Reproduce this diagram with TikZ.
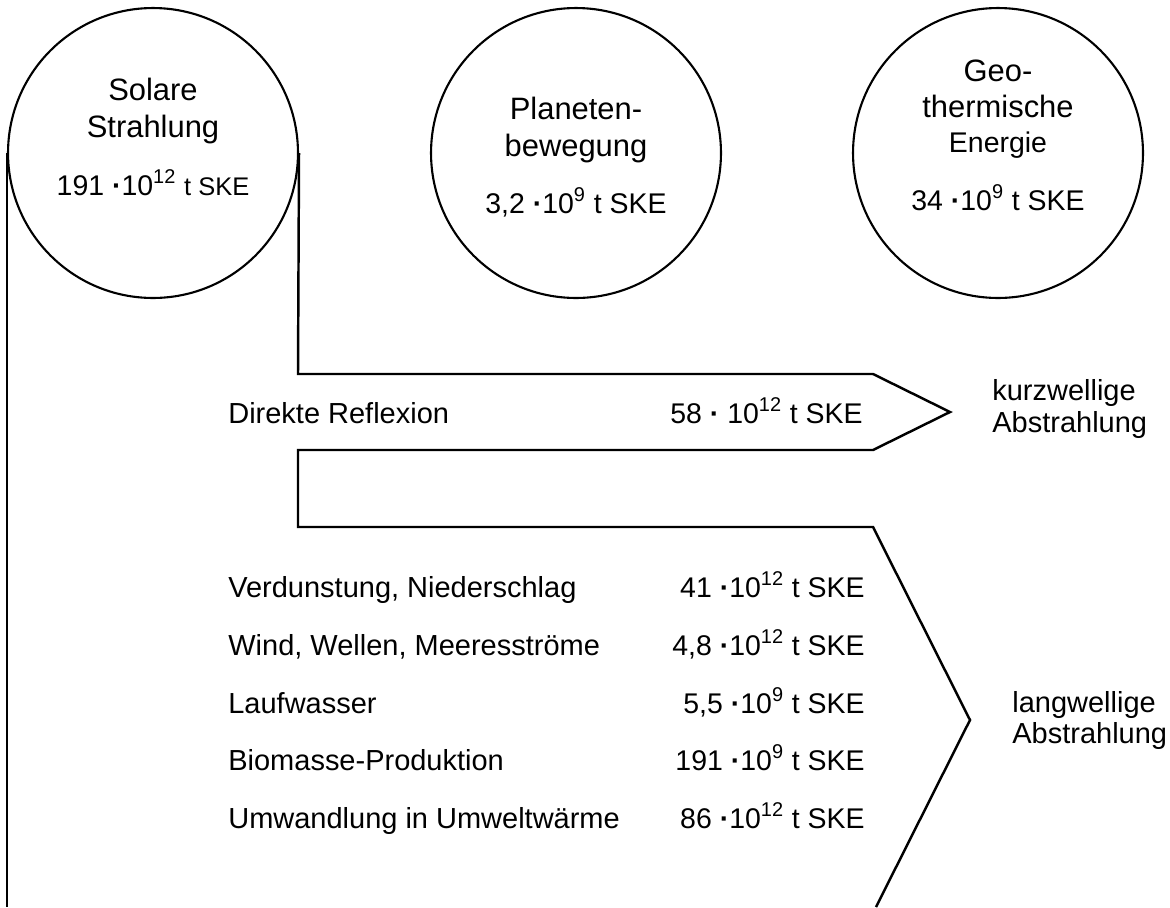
\documentclass[tikz,border=0pt]{standalone}
\usepackage{fontspec}
\setmainfont{Liberation Sans}
\usetikzlibrary{positioning,calc}

\tikzset{
  source/.style={circle, draw, line width=1.2pt, minimum size=5.8cm, inner sep=0pt},
  title/.style={font=\fontsize{17.6}{20}\selectfont, inner sep=0pt, anchor=base},
  lbl/.style={font=\fontsize{16.5}{19}\selectfont, inner sep=0pt, anchor=base west},
  val/.style={font=\fontsize{16.2}{19}\selectfont, inner sep=0pt, anchor=base east},
  amount/.style={font=\fontsize{16.2}{19}\selectfont, inner sep=0pt, anchor=base},
  flow/.style={draw, line width=1.4pt, line join=miter}
}
\newcommand{\pt}{{\bfseries ·}}

\begin{document}
\begin{tikzpicture}[x=0.02cm, y=-0.02cm]
    \useasboundingbox (0,0) rectangle (1170,907);

    % Quellen
    \node[source] (sol) at (153,153) {};
    \node[source] (planet) at (576,153) {};
    \node[source] (geo) at (998,153) {};

    \node[title] (sol1) at (153,100) {Solare};
    \node[title] (sol2) at ($(sol1.base)+(0,37)$) {Strahlung};
    \node[amount] (solv) at (153,195) {191 \pt10\textsuperscript{12} {\fontsize{14.5}{17}\selectfont t SKE}};

    \node[title] (pl1) at (576,119) {Planeten-};
    \node[title] (pl2) at ($(pl1.base)+(0,37)$) {bewegung};
    \node[amount] (plv) at (576,213) {3,2 \pt10\textsuperscript{9} t SKE};

    \node[title] (geo1) at (998,81) {Geo-};
    \node[title] (geo2) at ($(geo1.base)+(0,36)$) {thermische};
    \node[title, font=\fontsize{16.2}{19}\selectfont] (geo3) at ($(geo2.base)+(0,35)$) {Energie};
    \node[amount] (geov) at (998,210) {34 \pt10\textsuperscript{9} t SKE};

    % Strom der Sonnenstrahlung
    \draw[flow] (sol.west) -- (sol.west |- 0,907);
    \draw[flow] (sol.east) -- (298,374) -- (873,374) -- (950,412) -- (873,450)
        -- (298,450) -- (298,527) -- (873,527) -- (970,720) -- (876,907);

    % Reflexion
    \node[lbl] (refl) at (228,423) {Direkte Reflexion};
    \node[val] (reflv) at (863,423) {58 \pt{} 10\textsuperscript{12} t SKE};
    \node[lbl] (kurz1) at (992,400) {kurzwellige};
    \node[lbl] (kurz2) at ($(kurz1.base west)+(0,32)$) {Abstrahlung};

    % Umwandlung
    \node[lbl] (r1) at (228,597) {Verdunstung, Niederschlag};
    \node[lbl] (r2) at ($(r1.base west)+(0,58)$) {Wind, Wellen, Meeresströme};
    \node[lbl] (r3) at ($(r2.base west)+(0,58)$) {Laufwasser};
    \node[lbl] (r4) at ($(r3.base west)+(0,57)$) {Biomasse-Produktion};
    \node[lbl] (r5) at ($(r4.base west)+(0,58)$) {Umwandlung in Umweltwärme};

    \node[val] (v1) at (865,597) {41 \pt10\textsuperscript{12} t SKE};
    \node[val] (v2) at ($(v1.base east)+(0,58)$) {4,8 \pt10\textsuperscript{12} t SKE};
    \node[val] (v3) at ($(v2.base east)+(0,58)$) {5,5 \pt10\textsuperscript{9} t SKE};
    \node[val] (v4) at ($(v3.base east)+(0,57)$) {191 \pt10\textsuperscript{9} t SKE};
    \node[val] (v5) at ($(v4.base east)+(0,58)$) {86 \pt10\textsuperscript{12} t SKE};

    \node[lbl] (lang1) at (1012,712) {langwellige};
    \node[lbl] (lang2) at ($(lang1.base west)+(0,31)$) {Abstrahlung};
\end{tikzpicture}
\end{document}
